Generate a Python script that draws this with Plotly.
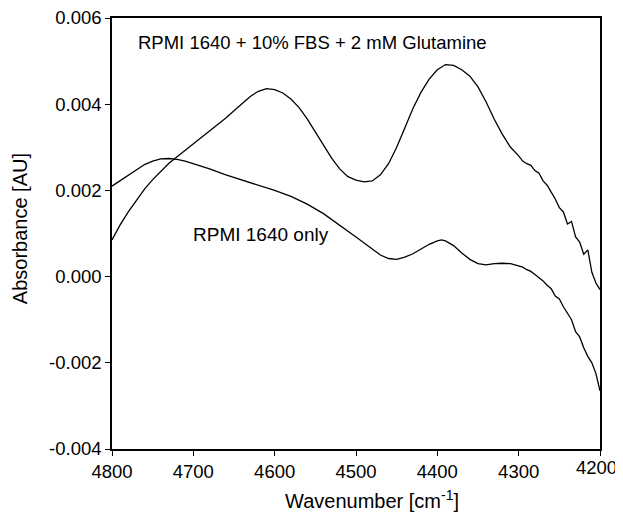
import plotly.graph_objects as go

# wavenumbers [cm-1] and absorbance [AU]
wn_fbs = [4800, 4790, 4780, 4770, 4760, 4750, 4740, 4730, 4720, 4710, 4700,
          4690, 4680, 4670, 4660, 4650, 4640, 4630, 4620, 4610, 4600, 4590,
          4580, 4570, 4560, 4550, 4540, 4530, 4520, 4510, 4500, 4490, 4480,
          4470, 4460, 4450, 4440, 4430, 4420, 4410, 4400, 4390, 4380, 4370,
          4360, 4350, 4340, 4330, 4320, 4310, 4300, 4295, 4290, 4285, 4280,
          4275, 4270, 4265, 4260, 4255, 4250, 4245, 4240, 4235, 4230, 4225,
          4220, 4215, 4210, 4205, 4200]
abs_fbs = [0.00085, 0.00120, 0.00150, 0.00178, 0.00203, 0.00225, 0.00245,
           0.00263, 0.00278, 0.00293, 0.00308, 0.00322, 0.00338, 0.00352,
           0.00368, 0.00385, 0.00402, 0.00418, 0.00430, 0.00436, 0.00434,
           0.00426, 0.00412, 0.00392, 0.00366, 0.00336, 0.00305, 0.00275,
           0.00250, 0.00232, 0.00224, 0.00220, 0.00222, 0.00236, 0.00262,
           0.00300, 0.00345, 0.00390, 0.00428, 0.00458, 0.00480, 0.00492,
           0.00490, 0.00480, 0.00465, 0.00440, 0.00405, 0.00365, 0.00330,
           0.00300, 0.00280, 0.00268, 0.00262, 0.00258, 0.00246, 0.00240,
           0.00222, 0.00212, 0.00196, 0.00180, 0.00160, 0.00150, 0.00122,
           0.00128, 0.00092, 0.00080, 0.00052, 0.00062, 0.00010, -0.00015,
           -0.00030]

wn_rpmi = [4800, 4790, 4780, 4770, 4760, 4750, 4740, 4730, 4720, 4710, 4700,
           4680, 4660, 4640, 4620, 4600, 4580, 4560, 4540, 4520, 4500, 4480,
           4470, 4460, 4450, 4440, 4430, 4420, 4410, 4400, 4395, 4390, 4380,
           4370, 4360, 4350, 4340, 4330, 4320, 4310, 4300, 4295, 4290, 4285,
           4280, 4275, 4270, 4265, 4260, 4255, 4250, 4245, 4240, 4235, 4230,
           4225, 4220, 4215, 4210, 4205, 4200]
abs_rpmi = [0.00210, 0.00222, 0.00235, 0.00248, 0.00260, 0.00268, 0.00273,
            0.00274, 0.00272, 0.00268, 0.00262, 0.00250, 0.00236, 0.00224,
            0.00212, 0.00200, 0.00186, 0.00168, 0.00146, 0.00120, 0.00092,
            0.00064, 0.00050, 0.00042, 0.00040, 0.00045, 0.00053, 0.00064,
            0.00075, 0.00083, 0.00085, 0.00083, 0.00072, 0.00055, 0.00040,
            0.00030, 0.00027, 0.00030, 0.00031, 0.00030, 0.00025, 0.00022,
            0.00016, 0.00012, 0.00005, -0.00002, -0.00010, -0.00020, -0.00028,
            -0.00045, -0.00052, -0.00070, -0.00085, -0.00100, -0.00128,
            -0.00140, -0.00165, -0.00185, -0.00200, -0.00225, -0.00265]

x_ticks = [4800, 4700, 4600, 4500, 4400, 4300, 4200]
# the last label sits flush with the right edge, so it is drawn separately
x_labels = ["4800", "4700", "4600", "4500", "4400", "4300", ""]
last_x_label = "4200"
y_ticks = [-0.004, -0.002, 0.000, 0.002, 0.004, 0.006]
y_labels = ["-0.004", "-0.002", "0.000", "0.002", "0.004", "0.006"]

font = "Liberation Sans, Arial, sans-serif"

fig = go.Figure()
fig.add_trace(go.Scatter(x=wn_fbs, y=abs_fbs, mode="lines",
                         line=dict(color="black", width=1.3)))
fig.add_trace(go.Scatter(x=wn_rpmi, y=abs_rpmi, mode="lines",
                         line=dict(color="black", width=1.3)))

# curve labels
fig.add_annotation(x=4770, y=0.00544, text="RPMI 1640 + 10% FBS + 2 mM Glutamine",
                   showarrow=False, xanchor="left", yanchor="middle",
                   font=dict(size=18.5, color="black", family=font))
fig.add_annotation(x=4703, y=0.00098, text="RPMI 1640 only",
                   showarrow=False, xanchor="left", yanchor="middle",
                   font=dict(size=19, color="black", family=font))

# right-most tick label, kept inside the page
fig.add_annotation(x=x_ticks[-1], y=-0.0418, yref="paper", text=last_x_label,
                   showarrow=False, xanchor="right", yanchor="middle",
                   xshift=19, font=dict(size=18.5, color="black", family=font))

# axis titles
fig.add_annotation(x=0.533, y=-0.118, xref="paper", yref="paper",
                   text="Wavenumber [cm<sup>-1</sup>]", showarrow=False,
                   xanchor="center", yanchor="middle",
                   font=dict(size=20, color="black", family=font))
fig.add_annotation(x=-0.1885, y=0.51, xref="paper", yref="paper",
                   text="Absorbance [AU]", showarrow=False, textangle=-90,
                   xanchor="center", yanchor="middle",
                   font=dict(size=20, color="black", family=font))

# page body has an 8px margin, so the figure is shrunk by that much
fig.update_layout(
    width=615, height=504,
    margin=dict(l=104, r=23, t=10, b=63),
    plot_bgcolor="white", paper_bgcolor="white",
    showlegend=False,
    font=dict(family=font, size=18.5, color="black"),
)
fig.update_xaxes(range=[4800, 4200], tickvals=x_ticks, ticktext=x_labels,
                 ticks="outside", ticklen=5, tickcolor="black", showline=True,
                 linecolor="black", linewidth=1.5, mirror=True, showgrid=False,
                 zeroline=False, automargin=False, ticklabeloverflow="allow")
fig.update_yaxes(range=[-0.004, 0.006], tickvals=y_ticks, ticktext=y_labels,
                 ticks="outside", ticklen=5, tickcolor="black", showline=True,
                 linecolor="black", linewidth=1.5, mirror=True, showgrid=False,
                 zeroline=False, automargin=False, ticklabeloverflow="allow")

fig.write_html("out.html")
